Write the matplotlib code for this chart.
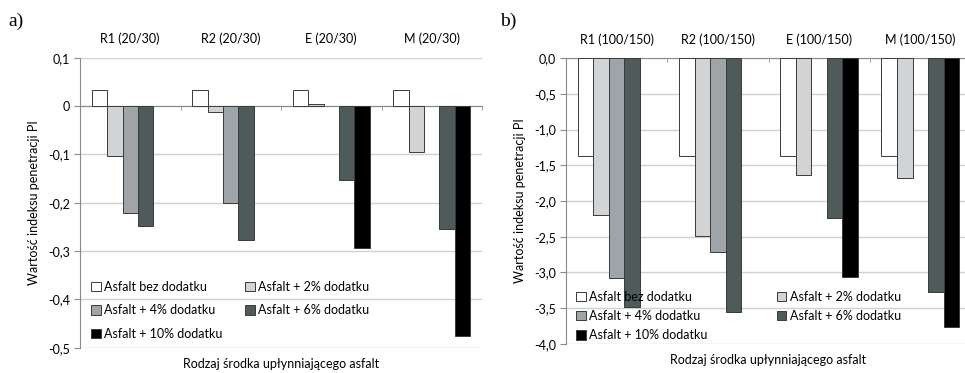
import numpy as np
import matplotlib
matplotlib.use("Agg")
import matplotlib.pyplot as plt

plt.rcParams['font.family'] = ['Lato', 'DejaVu Sans']

nan = np.nan
series_names = ["Asfalt bez dodatku", "Asfalt + 2% dodatku", "Asfalt + 4% dodatku",
                "Asfalt + 6% dodatku", "Asfalt + 10% dodatku"]
colors = ["#ffffff", "#d2d3d4", "#9ea4a7", "#4f5a5b", "#000000"]

cats_a = ["R1 (20/30)", "R2 (20/30)", "E (20/30)", "M (20/30)"]
a_0 = [0.033, 0.033, 0.033, 0.033]
a_2 = [-0.104, -0.013, 0.005, -0.096]
a_4 = [-0.222, -0.200, nan, nan]
a_6 = [-0.248, -0.278, -0.154, -0.254]
a_10 = [nan, nan, -0.293, -0.475]
yt_a = [0.1, 0, -0.1, -0.2, -0.3, -0.4, -0.5]
yl_a = ["0,1", "0", "-0,1", "-0,2", "-0,3", "-0,4", "-0,5"]

cats_b = ["R1 (100/150)", "R2 (100/150)", "E (100/150)", "M (100/150)"]
b_0 = [-1.37, -1.37, -1.37, -1.37]
b_2 = [-2.19, -2.49, -1.64, -1.68]
b_4 = [-3.08, -2.72, nan, nan]
b_6 = [-3.48, -3.56, -2.24, -3.28]
b_10 = [nan, nan, -3.06, -3.77]
yt_b = [0.0, -0.5, -1.0, -1.5, -2.0, -2.5, -3.0, -3.5, -4.0]
yl_b = ["0,0", "-0,5", "-1,0", "-1,5", "-2,0", "-2,5", "-3,0", "-3,5", "-4,0"]

ylabel = "Wartość indeksu penetracji PI"
xlabel = "Rodzaj środka upłynniającego asfalt"

FS = 9
fig = plt.figure(figsize=(9.65, 3.73), dpi=100)


def panel(rect, cats, data, yt, yl, leg_anchor, labelspacing, colspacing):
    ax = fig.add_axes(rect)
    n = len(data)
    w = 1.0 / (n + 1.5)
    x = np.arange(len(cats))
    handles = []
    for i, (vals, c, name) in enumerate(zip(data, colors, series_names)):
        h = ax.bar(x + (i - (n - 1) / 2) * w, vals, width=w, color=c,
                   edgecolor="#3a3a3a", linewidth=0.7, label=name, zorder=3)
        handles.append(h)
    ax.set_xlim(-0.5, len(cats) - 0.5)
    ax.set_ylim(yt[-1], yt[0])
    ax.set_yticks(yt)
    ax.set_yticklabels(yl, fontsize=FS)
    ax.yaxis.grid(True, color="#d0d0d0", linewidth=1.0, zorder=0)
    for s in ["top", "right"]:
        ax.spines[s].set_visible(False)
    ax.spines["left"].set_color("#8a8a8a")
    ax.spines["bottom"].set_position(("data", 0))
    ax.spines["bottom"].set_color("#8a8a8a")
    ax.spines["bottom"].set_zorder(2)
    ax.set_xticks(x)
    ax.set_xticklabels(cats, fontsize=FS)
    ax.set_xticks(np.arange(len(cats) + 1) - 0.5, minor=True)
    ax.tick_params(axis="x", which="major", length=0, top=False, bottom=False,
                   labeltop=True, labelbottom=False, pad=9)
    ax.tick_params(axis="x", which="minor", length=3, direction="out",
                   bottom=True, top=False, color="#8a8a8a")
    ax.tick_params(axis="y", length=4, color="#8a8a8a", pad=3)
    ax.set_ylabel(ylabel, fontsize=FS, labelpad=6)
    ax.text(0.5, -0.035, xlabel, transform=ax.transAxes, ha="center", va="top",
            fontsize=FS)
    order = [0, 2, 4, 1, 3]
    leg = ax.legend([handles[k] for k in order], [series_names[k] for k in order],
                    ncol=2, frameon=False, fontsize=FS, loc="lower left",
                    bbox_to_anchor=leg_anchor, handlelength=0.75, handleheight=0.75,
                    handletextpad=0.25, labelspacing=labelspacing,
                    columnspacing=colspacing, borderaxespad=0, borderpad=0)
    leg.set_zorder(5)
    return ax


axA = panel([80 / 965, 1 - 347.7 / 373, 402 / 965, 290 / 373], cats_a,
            [a_0, a_2, a_4, a_6, a_10], yt_a, yl_a, (0.028, 0.026), 0.94, 1.85)
axB = panel([566 / 965, 1 - 343.7 / 373, 405 / 965, 285.4 / 373], cats_b,
            [b_0, b_2, b_4, b_6, b_10], yt_b, yl_b, (0.025, 0.008), 0.58, 5.6)

fig.text(8 / 965, 1 - 21 / 373, "a)", family="Liberation Serif", fontsize=14,
         va="center", ha="left")
fig.text(500 / 965, 1 - 21 / 373, "b)", family="Liberation Serif", fontsize=14,
         va="center", ha="left")

fig.savefig("out.png", dpi=100)
